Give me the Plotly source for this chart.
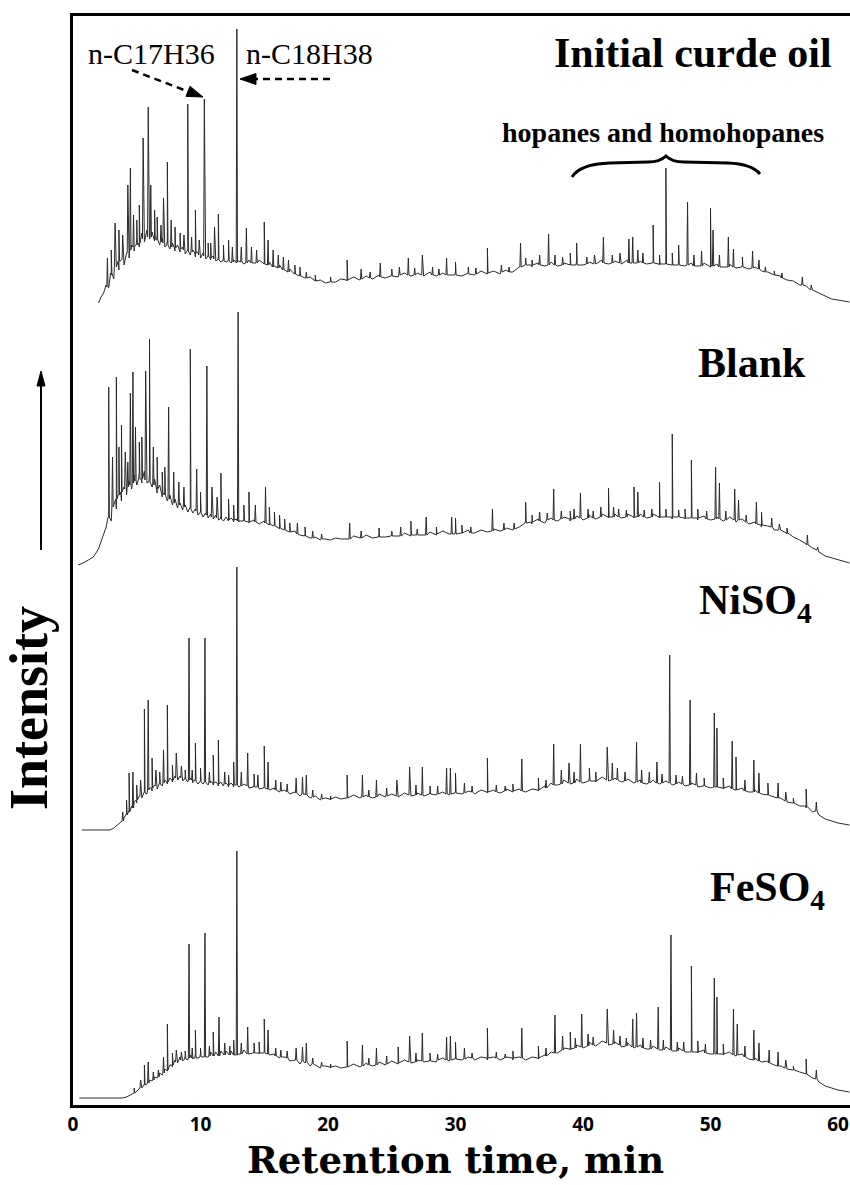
import numpy as np
import plotly.graph_objects as go

# ---------------- data ----------------
tick_vals = [0, 10, 20, 30, 40, 50, 60]
tick_text = ["0", "10", "20", "30", "40", "50", "60"]

# --- Initial crude oil: baseline samples (t [min], intensity [a.u.])
init_base_t = [2.0, 2.2, 2.4, 2.6, 2.8, 3.0, 3.2, 3.4, 3.6, 3.8, 4.0, 4.2, 4.4, 4.6, 4.8, 5.0, 5.2, 5.4, 5.6, 5.8,
               6.0, 6.2, 6.4, 6.6, 6.8, 7.0, 7.2, 7.4, 7.6, 7.8, 8.0, 8.2, 8.4, 8.6, 8.8, 9.0, 9.2, 9.4, 9.6, 9.8,
               10.0, 10.2, 10.4, 10.6, 10.8, 11.0, 11.2, 11.4, 11.6, 11.8, 12.0, 12.2, 12.4, 12.6, 12.8,
               13.0, 13.4, 13.8, 14.2, 14.6, 15.0, 15.4, 15.8, 16.2, 16.6, 17.0, 17.4, 17.8, 18.2, 18.6, 19.0, 19.4,
               19.8, 20.2, 20.6, 21.0,
               21.5, 22.0, 22.5, 23.0, 23.5, 24.0, 24.5, 25.0, 25.5, 26.0, 26.5, 27.0, 27.5, 28.0, 28.5, 29.0, 29.5,
               30.0, 30.5, 31.0, 31.5, 32.0, 32.5, 33.0, 33.5, 34.0, 34.5, 35.0,
               35.5, 36.0, 36.5, 37.0, 37.5, 38.0, 38.5, 39.0, 39.5, 40.0, 40.5, 41.0, 41.5, 42.0, 42.5, 43.0, 43.5,
               44.0, 44.5, 45.0, 45.5, 46.0, 46.5, 47.0, 47.5, 48.0, 48.5, 49.0, 49.5, 50.0, 50.5, 51.0, 51.5, 52.0,
               52.5, 53.0, 53.5, 54.0,
               54.5, 55.0, 55.5, 56.0, 56.5, 57.0, 57.5, 58.0, 58.5, 59.0, 59.5, 60.0, 60.9]
init_base_h = [2, 8, 12, 20, 17, 30, 26, 38, 35, 45, 40, 52, 47, 60, 54, 66, 58, 72, 63, 75,
               66, 73, 64, 70, 60, 67, 58, 64, 56, 62, 54, 60, 53, 58, 51, 56, 50, 55, 48, 53,
               47, 52, 46, 50, 45, 49, 44, 48, 43, 47, 43, 46, 42, 45, 42,
               44, 41, 45, 42, 45, 41, 43, 39, 40, 35, 36, 31, 32, 27, 28, 24, 25,
               22, 24, 23, 26,
               24, 28, 25, 29, 26, 30, 27, 31, 28, 32, 29, 32, 29, 33, 29, 32, 30,
               33, 29, 32, 30, 34, 31, 34, 31, 35, 33, 38,
               41, 38, 42, 39, 43, 39, 42, 40, 44, 40, 43, 41, 45, 41, 44, 41, 45,
               42, 44, 41, 44, 40, 43, 40, 43, 39, 42, 39, 42, 38, 41, 38, 41, 37,
               40, 36, 38, 34,
               33, 30, 29, 25, 24, 20, 19, 15, 12, 9, 6, 5, 3]
# peaks: retention time, foot level, top level
init_peak_t = [2.7, 3.0, 3.3, 3.6, 3.9, 4.3, 4.5, 4.75, 5.0, 5.2, 5.5, 5.9, 6.1, 6.4, 6.6, 6.9, 7.1, 7.4, 7.7, 8.0,
               8.4, 8.7, 9.0, 9.3, 9.6, 9.9, 10.3, 10.6, 10.8, 11.1, 11.4, 11.8, 12.2, 12.5, 12.85, 13.2, 13.6, 14.0,
               14.4, 15.0, 15.3, 15.7, 16.1, 16.5, 16.9, 17.4, 17.8, 18.3, 19.0, 20.2, 21.5, 22.6, 23.3, 24.1, 25.0,
               25.6, 26.3, 26.8, 27.4, 28.2, 28.7, 29.3, 30.0, 31.0, 31.6, 32.5, 33.6, 34.2, 35.1, 35.5, 36.0, 36.6,
               37.3, 37.8, 38.4, 39.0, 39.5, 40.3, 40.9, 41.6, 42.3, 42.9, 43.6, 43.9, 44.3, 44.7, 45.5, 46.0, 46.5,
               47.0, 47.5, 48.2, 48.7, 49.3, 50.0, 50.2, 50.7, 51.4, 51.8, 52.5, 53.3, 53.8, 54.3, 55.0, 55.6, 57.2,
               57.9]
init_peak_foot = [18, 32, 40, 44, 46, 52, 55, 58, 60, 62, 66, 68, 68, 66, 65, 63, 62, 60, 58, 57,
                  56, 55, 54, 53, 52, 50, 49, 48, 47, 46, 45, 44, 44, 43, 43, 43, 42, 42,
                  42, 41, 40, 38, 37, 35, 33, 31, 29, 27, 24, 23, 25, 26, 27, 28, 29,
                  30, 30, 30, 30, 30, 30, 30, 30, 31, 31, 32, 33, 33, 38, 40, 40, 40,
                  40, 40, 40, 40, 40, 41, 41, 42, 42, 42, 42, 42, 42, 42, 42, 41, 41,
                  40, 40, 40, 39, 39, 39, 39, 38, 38, 38, 38, 37, 36, 33, 30, 27, 20,
                  15]
init_peak_top = [47, 55, 82, 75, 70, 120, 137, 90, 85, 100, 167, 198, 120, 95, 88, 80, 107, 143, 85, 78,
                 72, 70, 201, 68, 95, 65, 206, 62, 62, 78, 91, 60, 65, 58, 276, 58, 77, 58,
                 55, 83, 65, 55, 50, 48, 45, 40, 38, 33, 30, 28, 45, 36, 33, 42, 36,
                 38, 47, 37, 50, 38, 36, 47, 43, 38, 37, 57, 40, 38, 62, 47, 45, 50,
                 71, 50, 48, 52, 62, 48, 50, 68, 50, 52, 66, 68, 55, 52, 80, 50, 137,
                 52, 60, 103, 50, 54, 97, 75, 50, 68, 56, 48, 54, 45, 38, 34, 32, 28,
                 20]

# --- Blank
blank_base_t = [0.4, 0.8, 1.2, 1.6, 2.0, 2.2, 2.4, 2.6, 2.8, 3.0, 3.2, 3.4, 3.6, 3.8, 4.0, 4.2, 4.4, 4.6, 4.8, 5.0,
                5.2, 5.4, 5.6, 5.8, 6.0, 6.2, 6.4, 6.6, 6.8, 7.0, 7.2, 7.4, 7.6, 7.8, 8.0, 8.2, 8.4, 8.6, 8.8, 9.0,
                9.2, 9.4, 9.6, 9.8, 10.0, 10.2, 10.4, 10.6, 10.8, 11.0, 11.2, 11.4, 11.6, 11.8, 12.0, 12.2, 12.4,
                12.6, 12.8,
                13.0, 13.4, 13.8, 14.2, 14.6, 15.0, 15.4, 15.8, 16.2, 16.6, 17.0, 17.4, 17.8, 18.2, 18.6, 19.0, 19.4,
                19.8, 20.2, 20.6, 21.0,
                21.5, 22.0, 22.5, 23.0, 23.5, 24.0, 24.5, 25.0, 25.5, 26.0, 26.5, 27.0, 27.5, 28.0, 28.5, 29.0, 29.5,
                30.0, 30.5, 31.0, 31.5, 32.0, 32.5, 33.0, 33.5, 34.0, 34.5, 35.0,
                35.5, 36.0, 36.5, 37.0, 37.5, 38.0, 38.5, 39.0, 39.5, 40.0, 40.5, 41.0, 41.5, 42.0, 42.5, 43.0, 43.5,
                44.0, 44.5, 45.0, 45.5, 46.0, 46.5, 47.0, 47.5, 48.0, 48.5, 49.0, 49.5, 50.0, 50.5, 51.0, 51.5, 52.0,
                52.5, 53.0, 53.5, 54.0,
                54.5, 55.0, 55.5, 56.0, 56.5, 57.0, 57.5, 58.0, 58.5, 59.0, 59.5, 60.0, 60.9]
blank_base_h = [2, 4, 7, 10, 18, 26, 34, 40, 50, 46, 62, 58, 72, 66, 80, 72, 86, 78, 92, 82,
                95, 84, 96, 84, 93, 80, 88, 74, 82, 70, 76, 66, 72, 62, 68, 59, 64, 57, 62, 55,
                60, 54, 58, 52, 56, 50, 54, 49, 53, 48, 52, 47, 51, 46, 50, 46, 49,
                45, 48,
                45, 48, 44, 47, 43, 46, 42, 43, 38, 39, 35, 36, 32, 33, 29, 30, 27,
                28, 27, 29, 28,
                28, 31, 29, 32, 29, 33, 30, 33, 31, 34, 31, 35, 32, 35, 32, 36, 33,
                36, 34, 37, 34, 37, 35, 38, 36, 39, 37, 40,
                46, 43, 48, 44, 49, 46, 50, 46, 51, 47, 52, 48, 53, 49, 53, 49, 53,
                49, 53, 49, 53, 49, 52, 48, 52, 48, 51, 47, 51, 47, 50, 46, 50, 45,
                48, 43, 45, 40,
                41, 37, 37, 33, 30, 27, 23, 19, 15, 11, 9, 7, 4]
blank_peak_t = [2.8, 3.1, 3.4, 3.6, 3.8, 4.1, 4.3, 4.5, 4.7, 4.9, 5.2, 5.4, 5.7, 6.0, 6.3, 6.6, 7.0, 7.2, 7.5, 7.9,
                8.3, 8.7, 9.2, 9.7, 10.0, 10.5, 10.9, 11.3, 11.6, 12.2, 12.6, 12.95, 13.4, 13.8, 14.3, 15.1, 15.4,
                15.8, 16.2, 16.6, 17.0, 17.6, 18.2, 18.8, 19.5, 21.7, 22.6, 24.0, 25.0, 25.7, 26.5, 27.0, 27.7, 28.5,
                29.7, 30.0, 30.5, 31.2, 32.9, 33.8, 34.6, 35.5, 36.0, 36.6, 37.2, 37.7, 38.3, 39.0, 39.3, 39.8, 40.4,
                40.8, 41.4, 42.0, 42.4, 42.8, 43.4, 44.0, 44.3, 44.8, 45.4, 46.0, 46.5, 47.0, 47.5, 48.0, 48.5, 49.0,
                49.7, 50.4, 50.7, 51.2, 51.9, 52.2, 52.8, 53.6, 54.0, 54.8, 55.4, 56.0, 57.6, 58.4]
blank_peak_foot = [50, 60, 68, 72, 75, 78, 80, 82, 84, 86, 88, 88, 87, 85, 82, 78, 74, 72, 68, 64,
                   62, 60, 58, 56, 54, 52, 50, 49, 48, 47, 47, 46, 46, 45, 45, 44, 43,
                   41, 39, 37, 35, 33, 31, 29, 28, 28, 29, 30, 31, 31, 32, 32, 32, 33,
                   33, 33, 34, 34, 36, 37, 38, 44, 45, 46, 47, 47, 48, 48, 48, 49, 49,
                   49, 50, 50, 50, 50, 50, 50, 50, 50, 50, 50, 50, 50, 50, 49, 49, 49,
                   48, 48, 48, 47, 47, 47, 45, 43, 42, 40, 37, 34, 22, 17]
blank_peak_top = [180, 110, 190, 120, 142, 115, 105, 174, 195, 140, 125, 130, 196, 228, 120, 110, 95, 100, 160, 95,
                  85, 80, 218, 98, 75, 201, 80, 70, 94, 68, 62, 255, 62, 75, 62, 80, 60,
                  55, 52, 48, 44, 44, 40, 36, 33, 44, 36, 39, 36, 40, 46, 38, 50, 40,
                  50, 49, 42, 40, 58, 44, 44, 65, 52, 55, 54, 78, 56, 56, 58, 74, 58,
                  56, 60, 79, 60, 58, 57, 80, 75, 57, 58, 85, 58, 133, 57, 58, 107, 58,
                  56, 100, 84, 56, 78, 67, 52, 65, 55, 49, 43, 39, 32, 20]

# --- NiSO4
ni_base_t = [0.7, 2.9, 3.2, 3.5, 3.8, 4.0, 4.2, 4.4, 4.6, 4.8, 5.0, 5.2, 5.4, 5.6, 5.8, 6.0, 6.2, 6.4, 6.6, 6.8,
             7.0, 7.2, 7.4, 7.6, 7.8, 8.0, 8.2, 8.4, 8.6, 8.8, 9.0, 9.2, 9.4, 9.6, 9.8, 10.0, 10.2, 10.4, 10.6,
             10.8, 11.0, 11.2, 11.4, 11.6, 11.8, 12.0, 12.2, 12.4, 12.6, 12.8,
             13.0, 13.4, 13.8, 14.2, 14.6, 15.0, 15.4, 15.8, 16.2, 16.6, 17.0, 17.4, 17.8, 18.2, 18.6, 19.0, 19.4,
             19.8, 20.2, 20.6, 21.0,
             21.5, 22.0, 22.5, 23.0, 23.5, 24.0, 24.5, 25.0, 25.5, 26.0, 26.5, 27.0, 27.5, 28.0, 28.5, 29.0, 29.5,
             30.0, 30.5, 31.0, 31.5, 32.0, 32.5, 33.0, 33.5, 34.0, 34.5, 35.0, 35.5, 36.0, 36.5, 37.0,
             37.5, 38.0, 38.5, 39.0, 39.5, 40.0, 40.5, 41.0, 41.5, 42.0, 42.5, 43.0, 43.5, 44.0, 44.5, 45.0, 45.5,
             46.0, 46.5, 47.0, 47.5, 48.0, 48.5, 49.0, 49.5, 50.0, 50.5, 51.0, 51.5, 52.0, 52.5, 53.0, 53.5, 54.0,
             54.5, 55.0, 55.5, 56.0, 56.5, 57.0, 57.5, 58.0, 58.5, 59.0, 59.5, 60.0, 60.9]
ni_base_h = [0, 0, 2, 5, 8, 12, 16, 20, 24, 28, 27, 34, 32, 38, 36, 42, 39, 45, 41, 48,
             44, 50, 46, 52, 48, 54, 50, 54, 49, 53, 48, 52, 47, 51, 46, 50, 46, 49, 45,
             49, 45, 48, 44, 48, 44, 47, 43, 47, 43, 46,
             43, 46, 42, 45, 41, 44, 40, 42, 38, 40, 36, 38, 34, 36, 32, 34, 30,
             32, 30, 33, 31,
             32, 35, 32, 35, 32, 36, 33, 36, 33, 37, 34, 37, 34, 38, 35, 38, 35,
             39, 36, 39, 36, 40, 37, 40, 37, 41, 38, 41, 38, 41, 39, 44,
             47, 45, 50, 46, 51, 47, 52, 48, 53, 49, 52, 48, 51, 47, 50, 46, 50,
             46, 49, 45, 48, 44, 47, 43, 46, 42, 45, 41, 44, 40, 42, 38, 40, 36,
             37, 33, 32, 28, 27, 24, 22, 18, 15, 11, 9, 7, 5]
ni_peak_t = [3.9, 4.2, 4.4, 4.7, 5.0, 5.3, 5.6, 5.9, 6.2, 6.5, 6.8, 7.1, 7.4, 7.8, 8.1, 8.5, 8.8, 9.1, 9.35, 9.6,
             10.0, 10.35, 10.7, 11.0, 11.4, 11.9, 12.2, 12.6, 12.85, 13.2, 13.7, 14.2, 14.5, 15.0, 15.3, 15.9, 16.3,
             16.8, 17.5, 18.0, 18.3, 18.8, 19.5, 20.2, 21.5, 22.7, 23.2, 23.8, 24.6, 25.4, 26.4, 26.9, 27.4, 28.0,
             28.6, 29.3, 29.6, 30.0, 30.7, 31.3, 32.5, 33.2, 33.9, 34.5, 35.2, 36.5, 37.1, 37.7, 38.3, 38.9, 39.3,
             39.8, 40.5, 41.0, 41.9, 42.3, 42.7, 43.3, 44.2, 44.6, 45.2, 45.8, 46.2, 46.8, 47.3, 47.8, 48.4, 48.9,
             49.5, 50.3, 50.5, 51.0, 51.7, 52.0, 52.7, 53.4, 53.8, 54.5, 55.3, 55.9, 56.5, 57.5, 58.3]
ni_peak_foot = [9, 15, 18, 22, 30, 34, 37, 40, 42, 44, 46, 47, 48, 50, 52, 52, 51, 50, 50, 49,
                48, 48, 47, 47, 46, 46, 45, 45, 45, 44, 44, 43, 43, 42, 41, 40, 39,
                38, 37, 36, 35, 33, 31, 31, 32, 33, 33, 33, 34, 34, 35, 35, 35, 36,
                36, 36, 36, 37, 37, 38, 38, 38, 39, 39, 39, 40, 42, 45, 46, 47, 47,
                48, 49, 49, 50, 50, 50, 49, 48, 47, 47, 47, 47, 47, 46, 46, 45, 45,
                44, 43, 43, 42, 41, 40, 39, 38, 37, 35, 32, 29, 27, 24, 19]
ni_peak_top = [18, 30, 57, 58, 45, 50, 121, 130, 72, 60, 58, 80, 125, 65, 77, 64, 60, 192, 60, 87,
               62, 192, 58, 75, 90, 58, 55, 68, 263, 58, 77, 56, 55, 84, 68, 50, 48,
               46, 52, 53, 55, 40, 36, 34, 55, 55, 40, 50, 42, 50, 63, 45, 63, 44,
               44, 62, 62, 57, 47, 44, 72, 45, 44, 46, 71, 52, 50, 86, 60, 67, 58,
               86, 62, 58, 83, 67, 62, 58, 88, 60, 58, 68, 56, 175, 55, 54, 130, 57,
               52, 117, 102, 52, 89, 73, 50, 70, 57, 47, 47, 38, 32, 41, 28]

# --- FeSO4
fe_base_t = [0.5, 3.85, 4.2, 4.5, 4.8, 5.1, 5.4, 5.6, 5.8, 6.0, 6.2, 6.4, 6.6, 6.8, 7.0, 7.2, 7.4, 7.6, 7.8, 8.0,
             8.2, 8.4, 8.6, 8.8, 9.0, 9.2, 9.4, 9.6, 9.8, 10.0, 10.2, 10.4, 10.6, 10.8, 11.0, 11.2, 11.4, 11.6,
             11.8, 12.0, 12.2, 12.4, 12.6, 12.8,
             13.0, 13.4, 13.8, 14.2, 14.6, 15.0, 15.4, 15.8, 16.2, 16.6, 17.0, 17.4, 17.8, 18.2, 18.6, 19.0, 19.4,
             19.8, 20.2, 20.6, 21.0,
             21.5, 22.0, 22.5, 23.0, 23.5, 24.0, 24.5, 25.0, 25.5, 26.0, 26.5, 27.0, 27.5, 28.0, 28.5, 29.0, 29.5,
             30.0, 30.5, 31.0, 31.5, 32.0, 32.5, 33.0, 33.5, 34.0, 34.5, 35.0, 35.5, 36.0, 36.5, 37.0,
             37.5, 38.0, 38.5, 39.0, 39.5, 40.0, 40.5, 41.0, 41.5, 42.0, 42.5, 43.0, 43.5, 44.0, 44.5, 45.0, 45.5,
             46.0, 46.5, 47.0, 47.5, 48.0, 48.5, 49.0, 49.5, 50.0, 50.5, 51.0, 51.5, 52.0, 52.5, 53.0, 53.5, 54.0,
             54.5, 55.0, 55.5, 56.0, 56.5, 57.0, 57.5, 58.0, 58.5, 59.0, 59.5, 60.0, 60.9]
fe_base_h = [0, 0, 1, 3, 5, 8, 10, 13, 14, 18, 17, 21, 20, 25, 23, 29, 27, 33, 31, 38,
             35, 41, 37, 42, 38, 43, 39, 44, 40, 45, 41, 45, 41, 46, 42, 46, 42, 47,
             43, 47, 43, 47, 43, 47,
             44, 48, 44, 48, 44, 47, 43, 44, 40, 41, 37, 38, 34, 35, 32, 33, 30,
             32, 30, 32, 30,
             31, 34, 31, 35, 32, 36, 33, 37, 34, 38, 35, 38, 36, 39, 36, 40, 37,
             40, 38, 41, 38, 41, 38, 41, 38, 41, 38, 41, 38, 41, 39, 43,
             46, 45, 50, 48, 53, 50, 56, 52, 57, 53, 56, 51, 55, 50, 53, 49, 52,
             48, 51, 47, 50, 46, 49, 45, 48, 44, 47, 43, 46, 42, 44, 39, 40, 36,
             37, 33, 32, 29, 28, 26, 24, 20, 16, 12, 10, 8, 6]
fe_peak_t = [4.8, 5.3, 5.6, 5.9, 6.3, 6.7, 7.1, 7.4, 7.8, 8.1, 8.5, 8.8, 9.1, 9.35, 9.6, 10.0, 10.35, 10.7, 11.0,
             11.45, 11.9, 12.3, 12.6, 12.85, 13.2, 13.7, 14.2, 14.6, 15.0, 15.3, 15.9, 16.3, 16.8, 17.5, 18.0, 18.3,
             18.8, 19.5, 20.2, 21.5, 22.7, 23.2, 23.8, 24.6, 25.5, 26.4, 26.9, 27.4, 28.0, 28.6, 29.3, 29.6, 30.0,
             30.7, 31.3, 32.5, 33.2, 33.9, 34.5, 35.2, 36.5, 37.1, 37.8, 38.4, 39.0, 39.4, 39.9, 40.4, 40.8, 41.9,
             42.4, 42.9, 43.4, 43.9, 44.2, 44.7, 45.3, 45.9, 46.3, 46.9, 47.4, 47.9, 48.5, 49.0, 49.6, 50.3, 50.5,
             51.0, 51.8, 52.1, 52.7, 53.4, 53.8, 54.6, 55.3, 55.9, 56.5, 57.5, 58.3]
fe_peak_foot = [5, 10, 13, 15, 18, 21, 25, 28, 33, 36, 38, 39, 40, 40, 40, 41, 41, 42, 42,
                42, 43, 43, 43, 43, 44, 44, 45, 45, 45, 44, 42, 41, 40, 38, 37, 36,
                34, 32, 31, 31, 32, 33, 33, 34, 35, 36, 36, 37, 37, 38, 38, 38, 39,
                39, 40, 40, 40, 40, 40, 40, 40, 42, 45, 48, 49, 50, 51, 52, 53, 55,
                54, 53, 52, 51, 51, 50, 49, 49, 48, 48, 47, 47, 46, 46, 45, 44, 44,
                44, 43, 43, 41, 38, 37, 35, 32, 30, 28, 24, 19]
fe_peak_top = [10, 18, 33, 36, 26, 28, 41, 74, 45, 48, 46, 47, 154, 50, 68, 50, 165, 52, 66,
               81, 55, 52, 58, 247, 55, 71, 55, 56, 79, 68, 50, 48, 47, 50, 51, 55,
               40, 36, 34, 57, 53, 40, 50, 42, 51, 62, 45, 65, 45, 44, 61, 62, 56,
               50, 45, 70, 46, 44, 47, 70, 52, 50, 83, 62, 66, 60, 84, 64, 61, 89,
               68, 62, 60, 79, 85, 60, 58, 91, 58, 163, 56, 56, 132, 57, 54, 120, 101,
               54, 89, 74, 52, 68, 55, 48, 46, 38, 32, 39, 28]

sample_labels = ["Initial curde oil", "Blank", "NiSO<sub>4</sub>", "FeSO<sub>4</sub>"]

# ---------------- layout constants ----------------
W, H = 850, 1185
L, R, T, B = 73, 0, 16, 80
PW, PH = W - L - R, H - T - B
X_MAX = PW / 12.75            # minutes shown across the plot width
offsets = [800, 538, 275, 7]  # vertical stacking of the four chromatograms
PEAK_HALF_WIDTH = 0.05
LINE_COLOR = "#2a2a2a"
FONT = "Liberation Serif"


def build(bt, bh, pt, pf, ptop, w=PEAK_HALF_WIDTH):
    xs = list(bt)
    ys = list(bh)
    for t, f, top in zip(pt, pf, ptop):
        xs += [t - w, t, t + w]
        ys += [f, top, f]
    order = np.argsort(np.array(xs), kind="stable")
    return np.array(xs)[order], np.array(ys, dtype=float)[order]


series = [
    (init_base_t, init_base_h, init_peak_t, init_peak_foot, init_peak_top),
    (blank_base_t, blank_base_h, blank_peak_t, blank_peak_foot, blank_peak_top),
    (ni_base_t, ni_base_h, ni_peak_t, ni_peak_foot, ni_peak_top),
    (fe_base_t, fe_base_h, fe_peak_t, fe_peak_foot, fe_peak_top),
]

fig = go.Figure()
for (bt, bh, pt, pf, ptop), off, name in zip(series, offsets, sample_labels):
    x, y = build(bt, bh, pt, pf, ptop)
    fig.add_trace(go.Scatter(x=x, y=y + off, mode="lines", name=name,
                             line=dict(color=LINE_COLOR, width=1), hoverinfo="skip"))


def pxx(x):
    return (x - L) / PW


def pyy(y):
    return (H - B - y) / PH


ann = []


def label(text, x, y, size, bold=True, xanchor="center", family=FONT, angle=0):
    ann.append(dict(text=text, x=pxx(x), y=pyy(y), xref="paper", yref="paper", showarrow=False,
                    xanchor=xanchor, yanchor="middle", textangle=angle,
                    font=dict(family=family, size=size, color="black", weight="bold" if bold else "normal")))


label(sample_labels[0], 834, 53, 42, xanchor="right")
label("hopanes and homohopanes", 663, 133, 28)
label(sample_labels[1], 752, 363, 42)
label(sample_labels[2], 755, 603, 42)
label(sample_labels[3], 767, 890, 42)
label("n-C17H36", 151, 53, 30, bold=False)
label("n-C18H38", 309, 53, 30, bold=False)
label("Retention time, min", 455, 1160, 37, family="DejaVu Serif")
label("Intensity", 29, 708, 54, angle=-90)

shapes = []


def tri(tip, base_a, base_b):
    pts = [tip, base_a, base_b]
    p = "M " + " L ".join(f"{pxx(a):.5f},{pyy(b):.5f}" for a, b in pts) + " Z"
    shapes.append(dict(type="path", xref="paper", yref="paper", path=p, fillcolor="black",
                       line=dict(color="black", width=1)))


def seg(x0, y0, x1, y1, width=2.5, dash="solid"):
    shapes.append(dict(type="line", xref="paper", yref="paper", x0=pxx(x0), y0=pyy(y0), x1=pxx(x1), y1=pyy(y1),
                       line=dict(color="black", width=width, dash=dash)))


# dashed pointer to n-C17H36 peak
seg(132, 70, 188, 91.5, dash="7px,5px")
tri((203, 97), (186.0, 96.4), (190.0, 86.2))
# dashed pointer to n-C18H38 peak
seg(330, 79, 256, 79, dash="7px,5px")
tri((240, 79), (256, 73.5), (256, 84.5))
# intensity arrow
seg(41, 550, 41, 382, width=2)
tri((41, 371), (37, 386), (45, 386))

brace_pts = [("M", 572, 177), ("Q", 580, 164), ("", 610, 163), ("L", 648, 162), ("Q", 660, 162), ("", 666, 156),
             ("Q", 672, 162), ("", 684, 162), ("L", 728, 163), ("Q", 752, 164), ("", 760, 174)]
path = " ".join(f"{c} {pxx(a):.5f},{pyy(b):.5f}" if c else f"{pxx(a):.5f},{pyy(b):.5f}" for c, a, b in brace_pts)
shapes.append(dict(type="path", xref="paper", yref="paper", path=path, line=dict(color="black", width=3)))

fig.update_layout(
    width=W, height=H, margin=dict(l=L, r=R, t=T, b=B, pad=0),
    paper_bgcolor="white", plot_bgcolor="white", showlegend=False,
    annotations=ann, shapes=shapes,
    xaxis=dict(range=[0, X_MAX], tickvals=tick_vals, ticktext=tick_text, showgrid=False, zeroline=False,
               showline=True, linecolor="black", linewidth=3, mirror=True, ticks="",
               tickfont=dict(family="Noto Sans", size=19, color="black", weight="bold")),
    yaxis=dict(range=[0, PH], showticklabels=False, showgrid=False, zeroline=False,
               showline=True, linecolor="black", linewidth=3, ticks=""),
)

fig.write_html("out.html")
